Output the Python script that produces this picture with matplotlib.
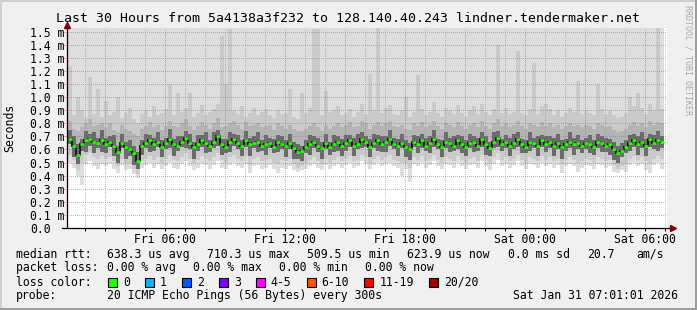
import numpy as np
import matplotlib
matplotlib.use('Agg')
import matplotlib.pyplot as plt
from matplotlib.patches import Rectangle
from matplotlib.lines import Line2D

# smoke data, one value per 12 min step, in 1/100 ms
median = [66, 68, 63, 56, 64, 67, 68, 66, 65, 67,
          64, 66, 63, 58, 65, 62, 60, 57, 51, 63,
          65, 67, 64, 66, 62, 65, 68, 64, 63, 66,
          69, 65, 62, 64, 67, 65, 63, 66, 70, 64,
          62, 66, 68, 65, 63, 67, 64, 65, 66, 63,
          64, 65, 62, 66, 64, 63, 65, 61, 58, 59,
          62, 64, 66, 63, 61, 65, 62, 64, 66, 63,
          65, 67, 63, 64, 68, 66, 62, 65, 67, 64,
          66, 68, 64, 63, 65, 62, 60, 66, 64, 67,
          63, 65, 68, 64, 62, 66, 65, 63, 67, 64,
          62, 65, 66, 63, 68, 64, 61, 66, 69, 64,
          66, 63, 65, 68, 64, 62, 66, 65, 63, 67,
          64, 66, 63, 65, 62, 64, 66, 64, 65, 63,
          65, 64, 62, 66, 65, 63, 64, 60, 57, 59,
          62, 65, 67, 64, 66, 63, 68, 65, 67, 66]
q1 = [60, 64, 54, 49, 59, 58, 63, 57, 61, 58,
      57, 62, 55, 50, 61, 53, 55, 48, 45, 56,
      61, 58, 59, 62, 54, 60, 61, 55, 59, 62,
      61, 60, 53, 59, 62, 57, 58, 61, 63, 56,
      57, 58, 63, 60, 55, 62, 55, 61, 58, 59,
      56, 61, 57, 58, 60, 54, 60, 53, 53, 51,
      57, 56, 61, 58, 53, 60, 56, 58, 59, 55,
      59, 62, 55, 60, 61, 62, 54, 61, 59, 58,
      58, 63, 60, 55, 61, 54, 52, 62, 57, 61,
      59, 57, 62, 60, 54, 61, 58, 59, 60, 57,
      55, 61, 58, 59, 62, 56, 55, 61, 62, 59,
      61, 55, 60, 62, 57, 57, 59, 61, 55, 62,
      58, 61, 55, 60, 53, 59, 61, 56, 60, 57,
      60, 57, 56, 61, 58, 58, 56, 52, 50, 54,
      57, 59, 62, 56, 61, 55, 62, 60, 59, 61]
q3 = [71, 75, 70, 64, 68, 74, 72, 73, 69, 75,
      69, 70, 71, 63, 72, 66, 67, 63, 58, 67,
      72, 71, 69, 73, 67, 69, 76, 68, 70, 70,
      74, 72, 66, 71, 71, 73, 67, 73, 75, 68,
      68, 73, 72, 71, 67, 74, 69, 70, 73, 67,
      71, 69, 68, 71, 70, 67, 72, 66, 64, 63,
      67, 71, 70, 69, 66, 72, 66, 71, 70, 68,
      71, 71, 69, 72, 73, 70, 68, 72, 71, 70,
      70, 75, 69, 68, 72, 67, 65, 71, 70, 72,
      69, 70, 75, 68, 67, 73, 69, 70, 71, 70,
      67, 72, 70, 69, 73, 70, 66, 73, 74, 68,
      71, 69, 72, 73, 68, 67, 73, 69, 70, 71,
      70, 70, 69, 72, 67, 68, 73, 69, 71, 67,
      69, 71, 67, 72, 70, 69, 68, 66, 63, 65,
      67, 71, 72, 70, 73, 68, 72, 71, 74, 70]
p_high = [78, 82, 76, 74, 77, 80, 83, 78, 79, 80,
          77, 80, 75, 73, 79, 76, 74, 72, 70, 76,
          78, 81, 77, 79, 75, 78, 82, 78, 77, 80,
          83, 78, 75, 78, 81, 79, 76, 80, 84, 77,
          78, 80, 82, 79, 76, 81, 78, 79, 80, 77,
          78, 79, 75, 80, 78, 76, 79, 76, 74, 74,
          76, 78, 80, 77, 74, 79, 76, 78, 80, 77,
          79, 81, 77, 78, 82, 80, 76, 79, 81, 78,
          80, 82, 78, 77, 79, 76, 75, 80, 78, 81,
          77, 79, 82, 78, 76, 80, 79, 77, 81, 78,
          76, 79, 80, 77, 82, 78, 76, 80, 83, 78,
          80, 77, 79, 82, 78, 76, 80, 79, 77, 81,
          78, 80, 77, 79, 76, 78, 80, 78, 79, 77,
          79, 78, 76, 80, 79, 77, 78, 75, 73, 74,
          76, 79, 81, 78, 80, 77, 82, 79, 81, 80]
p_max = [88, 124, 86, 100, 90, 84, 115, 87, 106, 85,
         97, 86, 89, 100, 84, 88, 92, 83, 80, 87,
         90, 85, 93, 86, 88, 91, 110, 86, 103, 89,
         92, 103, 85, 88, 94, 86, 89, 91, 95, 147,
         110, 152, 90, 87, 93, 85, 88, 92, 86, 89,
         91, 86, 84, 90, 87, 88, 106, 85, 83, 103,
         88, 92, 152, 152, 86, 105, 89, 90, 93, 86,
         88, 91, 85, 89, 95, 87, 118, 90, 153, 88,
         92, 94, 87, 86, 90, 100, 85, 89, 117, 91,
         86, 89, 96, 88, 85, 92, 90, 87, 94, 88,
         85, 90, 93, 87, 95, 89, 86, 91, 140, 88,
         92, 87, 89, 135, 88, 86, 91, 126, 87, 93,
         95, 91, 86, 90, 85, 88, 92, 89, 112, 87,
         90, 88, 86, 109, 91, 87, 90, 86, 84, 85,
         88, 100, 93, 103, 92, 87, 95, 90, 153, 91]
p_low = [55, 56, 52, 44, 50, 56, 57, 54, 53, 55,
         53, 54, 51, 47, 53, 50, 49, 45, 41, 51,
         53, 55, 52, 54, 50, 53, 56, 52, 51, 54,
         57, 53, 50, 52, 55, 53, 51, 54, 57, 52,
         50, 54, 56, 53, 51, 55, 48, 53, 54, 51,
         52, 53, 50, 49, 52, 51, 53, 49, 46, 47,
         50, 52, 54, 51, 49, 53, 50, 52, 54, 51,
         53, 55, 51, 52, 56, 54, 50, 53, 55, 52,
         54, 56, 52, 51, 50, 50, 46, 54, 52, 55,
         51, 53, 56, 52, 50, 54, 53, 51, 55, 52,
         50, 53, 54, 51, 56, 52, 49, 54, 57, 52,
         54, 51, 53, 56, 52, 50, 54, 53, 51, 55,
         52, 54, 51, 53, 49, 52, 54, 52, 50, 51,
         53, 52, 50, 54, 53, 51, 52, 48, 45, 47,
         49, 53, 55, 52, 54, 51, 49, 53, 55, 53]
p_min = [48, 50, 46, 40, 33, 49, 51, 47, 45, 49,
         47, 49, 45, 42, 48, 44, 45, 41, 38, 46,
         48, 50, 46, 49, 45, 47, 50, 46, 45, 49,
         51, 47, 44, 46, 49, 48, 45, 48, 51, 46,
         45, 48, 50, 47, 46, 49, 42, 47, 48, 45,
         46, 48, 45, 42, 46, 45, 47, 44, 43, 44,
         45, 47, 49, 46, 44, 48, 45, 47, 49, 46,
         48, 50, 46, 47, 51, 49, 45, 48, 50, 47,
         49, 50, 47, 46, 40, 45, 35, 49, 47, 50,
         46, 48, 51, 47, 45, 49, 48, 46, 50, 47,
         45, 48, 49, 46, 51, 47, 44, 49, 52, 47,
         49, 46, 48, 51, 47, 45, 49, 48, 46, 50,
         47, 49, 46, 48, 42, 47, 49, 47, 43, 46,
         48, 47, 45, 49, 48, 46, 47, 43, 42, 44,
         43, 48, 50, 47, 49, 44, 42, 48, 50, 45]

xtick_pos = [6, 12, 18, 24, 30]
xtick_lab = ['Fri 06:00', 'Fri 12:00', 'Fri 18:00', 'Sat 00:00', 'Sat 06:00']
ytick_val = [i / 10 for i in range(16)]
ytick_lab = ['0.0'] + ['%.1f m' % v for v in ytick_val[1:]]

loss_labels = ['0', '1', '2', '3', '4-5', '6-10', '11-19', '20/20']
loss_colors = ['#26ff00', '#00b8ff', '#0059ff', '#7e00ff', '#ff00ff', '#ff5500', '#ff0000', '#a10000']

title = 'Last 30 Hours from 5a4138a3f232 to 128.140.40.243 lindner.tendermaker.net'
row_rtt = [(16, 'median rtt:'), (107, '638.3 us avg'), (207, '710.3 us max'), (307, '509.5 us min'),
           (407, '623.9 us now'), (508, '0.0 ms sd'), (587, '20.7'), (636, 'am/s')]
row_loss = [(16, 'packet loss:'), (107, '0.00 % avg'), (193, '0.00 % max'), (279, '0.00 % min'),
            (365, '0.00 % now')]
row_probe = [(16, 'probe:'), (107, '20 ICMP Echo Pings (56 Bytes) every 300s'),
             (513, 'Sat Jan 31 07:01:01 2026')]

plt.rcParams['font.family'] = ['DejaVu Sans Mono']
FS = 8.3
W, H = 697, 310
fig = plt.figure(figsize=(W / 100, H / 100), dpi=100, facecolor='#f0f0f0')
ax = fig.add_axes([67 / W, 1 - 228 / H, 600 / W, 200 / H])
ax.set_facecolor('white')

ms = lambda a: np.array(a) / 100.0
n = len(median)
edges = 30.92 - 0.2 * n + 0.2 * np.arange(n + 1)
ymax = 1.528

ax.stairs(np.full(n, ymax + 0.2), edges, baseline=ms(p_min), fill=True, color='#dddddd', lw=0, zorder=1)
ax.stairs(ms(p_max), edges, baseline=ms(p_low), fill=True, color='#cacaca', lw=0, zorder=1.1)
ax.stairs(ms(p_high), edges, baseline=ms(q1), fill=True, color='#b4b4b4', lw=0, zorder=1.2)
ax.stairs(ms(q3), edges, baseline=ms(q1), fill=True, color='#6b6b6b', lw=0, zorder=1.3)
ax.stairs(ms(median), edges, baseline=None, color='#151515', lw=1.3, zorder=1.4)

# grid
dots = dict(lw=0.72, ls=(0, (1, 2)), alpha=0.5, antialiased=False, zorder=3)
for h in range(2, 32):
    ax.axvline(h, color='#de5050' if h % 3 == 0 else '#8f8f8f', **dots)
for v in ytick_val[1:]:
    ax.axhline(v, color='#de5050', **dots)

ax.hlines(ms(median), edges[:-1], edges[1:], colors='#26ff00', lw=1.9, zorder=4)

ax.set_xlim(1.08, 31.08)
ax.set_ylim(0, ymax)
for s in ax.spines.values():
    s.set_visible(False)

ax.set_xticks(xtick_pos)
ax.set_xticklabels(xtick_lab, fontsize=FS)
ax.set_xticks(range(2, 32), minor=True)
ax.tick_params(axis='x', which='both', length=2, width=0.7, color='black', pad=1.5)
ax.set_yticks(ytick_val)
ax.set_yticklabels(ytick_lab, fontsize=FS)
ax.tick_params(axis='y', length=3, width=0.7, color='#eea7a7', pad=23.8)
for lab in ax.get_yticklabels():
    lab.set_horizontalalignment('left')

# axes with arrows
ax.add_line(Line2D([-0.008, 1.008], [0, 0], color='black', lw=0.9, transform=ax.transAxes, clip_on=False, zorder=5))
ax.add_line(Line2D([0, 0], [0, 1.01], color='black', lw=0.9, transform=ax.transAxes, clip_on=False, zorder=5))
ax.plot([0], [1.016], marker='^', color='#800000', ms=4.5, transform=ax.transAxes, clip_on=False, zorder=6)
ax.plot([1.01], [0], marker='>', color='#800000', ms=4.5, transform=ax.transAxes, clip_on=False, zorder=6)

fig.text(0.5, 1 - 19 / H, title, ha='center', va='center', fontsize=9.5)
fig.text(10 / W, 1 - 128 / H, 'Seconds', rotation=90, ha='center', va='center', fontsize=FS)
fig.text(688 / W, 1 - 5 / H, 'RRDTOOL / TOBI OETIKER', rotation=270, ha='center', va='top',
         fontsize=6, color='#a8a8a8')

for row, yc in [(row_rtt, 254.3), (row_loss, 267.7), (row_probe, 295.7)]:
    for x, t in row:
        fig.text(x / W, 1 - yc / H, t, ha='left', va='center', fontsize=FS)

fig.text(16 / W, 1 - 282.3 / H, 'loss color:', ha='left', va='center', fontsize=FS)
bx = 108
for lab, col in zip(loss_labels, loss_colors):
    fig.add_artist(Rectangle((bx / W, 1 - 287 / H), 9 / W, 9 / H, transform=fig.transFigure,
                             facecolor=col, edgecolor='black', lw=0.8))
    fig.text((bx + 15) / W, 1 - 282.3 / H, lab, ha='left', va='center', fontsize=FS)
    bx += 15 + 6.94 * len(lab) + 15

# 3d frame like rrdtool
fig.add_artist(Rectangle((0, 1 - 2 / H), 1, 2 / H, transform=fig.transFigure, color='#cfcfcf', lw=0))
fig.add_artist(Rectangle((0, 0), 2 / W, 1, transform=fig.transFigure, color='#cfcfcf', lw=0))
fig.add_artist(Rectangle((0, 0), 1, 2 / H, transform=fig.transFigure, color='#9e9e9e', lw=0))
fig.add_artist(Rectangle((1 - 2 / W, 0), 2 / W, 1, transform=fig.transFigure, color='#9e9e9e', lw=0))

fig.savefig('out.png', dpi=100, facecolor=fig.get_facecolor())
